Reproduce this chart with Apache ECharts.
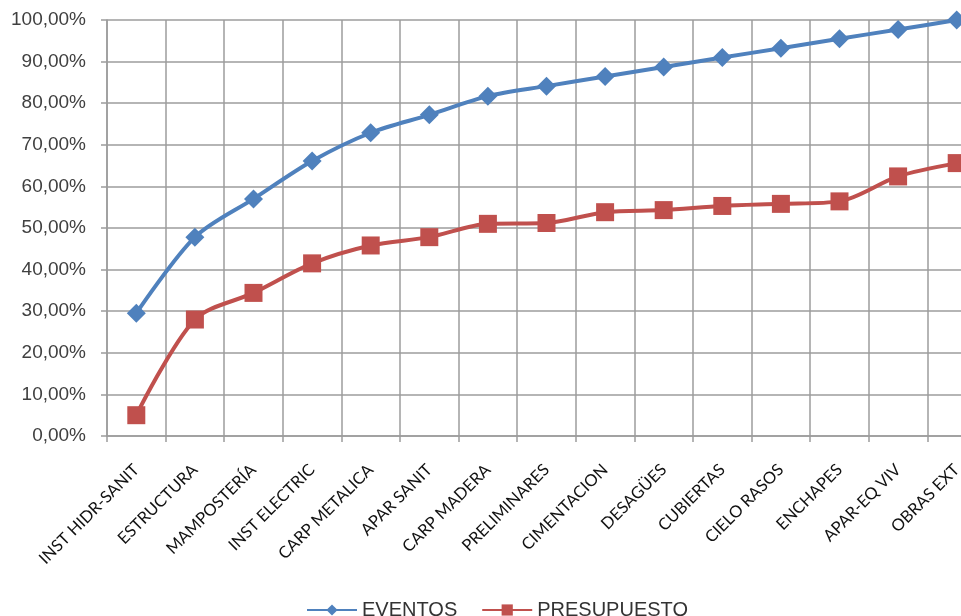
<!DOCTYPE html>
<html>
<head>
<meta charset="utf-8">
<script src="https://cdn.jsdelivr.net/npm/echarts@6/dist/echarts.min.js"></script>
<style>
  html, body { margin: 0; padding: 0; background: #ffffff; overflow: hidden; }
  #chart { width: 961px; height: 616px; }
</style>
</head>
<body>
<div id="chart"></div>
<script>
// Work categories along the horizontal axis
const categories = [
  'INST HIDR-SANIT', 'ESTRUCTURA', 'MAMPOSTERÍA', 'INST ELECTRIC', 'CARP METALICA',
  'APAR SANIT', 'CARP MADERA', 'PRELIMINARES', 'CIMENTACION', 'DESAGÜES',
  'CUBIERTAS', 'CIELO RASOS', 'ENCHAPES', 'APAR-EQ VIV', 'OBRAS EXT'
];

// Cumulative percentages per series
const eventos = [29.5, 47.8, 57.0, 66.1, 72.9, 77.2, 81.7, 84.1, 86.4, 88.7, 91.0, 93.2, 95.5, 97.7, 100.0];
const presupuesto = [5.0, 28.0, 34.4, 41.5, 45.8, 47.8, 51.0, 51.2, 53.8, 54.3, 55.3, 55.8, 56.4, 62.4, 65.6];

// Value axis ticks (0 to 100 in steps of 10)
const yMin = 0;
const yMax = 100;
const yStep = 10;

const chart = echarts.init(document.getElementById('chart'), null, { renderer: 'canvas' });

const gridColor = '#9c9c9c';

chart.setOption({
  backgroundColor: '#ffffff',
  animation: false,
  // the last category column runs past the right edge of the canvas
  grid: {
    left: 107, top: 20, width: 879, height: 416,
    containLabel: false,
    outerBoundsMode: 'none'
  },
  legend: {
    top: 595,
    left: 301,
    itemWidth: 50,
    itemHeight: 14,
    itemGap: 24,
    textStyle: { fontFamily: 'Liberation Sans, Arial, sans-serif', fontSize: 20, color: '#333333' },
    data: ['EVENTOS', 'PRESUPUESTO']
  },
  xAxis: {
    type: 'category',
    data: categories,
    boundaryGap: true,
    axisLine: { lineStyle: { color: gridColor, width: 1.5 } },
    axisTick: { show: true, length: 6, alignWithLabel: false, lineStyle: { color: gridColor, width: 1.5 } },
    splitLine: { show: true, lineStyle: { color: gridColor, width: 1.5 } },
    axisLabel: {
      interval: 0,
      rotate: 45,
      margin: 31,
      fontFamily: 'Lato, Carlito, sans-serif',
      fontSize: 16.5,
      color: '#111111'
    }
  },
  yAxis: {
    type: 'value',
    min: yMin,
    max: yMax,
    interval: yStep,
    axisLine: { show: true, lineStyle: { color: gridColor, width: 1.5 } },
    axisTick: { show: true, length: 6, lineStyle: { color: gridColor, width: 1.5 } },
    splitLine: { show: true, lineStyle: { color: gridColor, width: 1.5 } },
    axisLabel: {
      margin: 21,
      fontFamily: 'Liberation Sans, Arial, sans-serif',
      fontSize: 19,
      color: '#404040',
      formatter: v => v.toFixed(2).replace('.', ',') + '%'
    }
  },
  series: [
    {
      name: 'EVENTOS',
      type: 'line',
      data: eventos,
      smooth: 0.3,
      symbol: 'diamond',
      symbolSize: 19,
      itemStyle: { color: '#4f81bd' },
      lineStyle: { color: '#4f81bd', width: 4 },
      z: 3
    },
    {
      name: 'PRESUPUESTO',
      type: 'line',
      data: presupuesto,
      smooth: 0.3,
      symbol: 'rect',
      symbolSize: 18,
      itemStyle: { color: '#c0504d' },
      lineStyle: { color: '#c0504d', width: 4 },
      z: 2
    }
  ]
});
</script>
</body>
</html>
